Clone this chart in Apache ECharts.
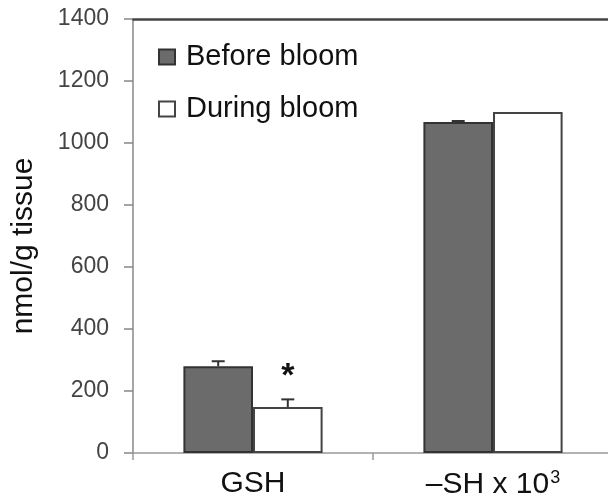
<!DOCTYPE html>
<html>
<head>
<meta charset="utf-8">
<script src="https://cdn.jsdelivr.net/npm/echarts@6/dist/echarts.min.js"></script>
<style>html,body{margin:0;padding:0;background:#fff}#c{width:608px;height:502px}</style>
</head>
<body>
<div id="c"></div>
<script>
const categories = ['GSH', '–SH x 10³'];
const beforeValues = [280, 1068];
const duringValues = [148, 1100];
const beforeErr = [16, 3];
const duringErr = [25, 0];
const significance = ['*', ''];
const yTicks = [0, 200, 400, 600, 800, 1000, 1200, 1400];

const FONT = '"Liberation Sans", Arial, sans-serif';
const GAP = 0.42;

function errSeries(name, vals, errs, sign, marks) {
  return {
    type: 'custom', name: name + ' err', z: 5, silent: true,
    data: vals.map((v, i) => [i, v, errs[i]]),
    renderItem: function (params, api) {
      const cat = api.value(0), val = api.value(1), err = api.value(2);
      const band = api.size([1, 0])[0];
      const off = band * (1 - GAP) / 4 * sign;
      const base = api.coord([cat, val]);
      const top = api.coord([cat, val + err]);
      const x = base[0] + off;
      const st = { stroke: '#333', lineWidth: 2 };
      const children = [];
      if (err > 0) {
        children.push({ type: 'line', shape: { x1: x, y1: base[1], x2: x, y2: top[1] }, style: st });
        children.push({ type: 'line', shape: { x1: x - 6.5, y1: top[1], x2: x + 6.5, y2: top[1] }, style: st });
      }
      const m = marks ? marks[params.dataIndex] : '';
      if (m) {
        children.push({ type: 'text', style: { text: m, x: x, y: top[1] - 23, align: 'center', verticalAlign: 'middle',
          font: 'bold 34px ' + FONT, fill: '#111' } });
      }
      return { type: 'group', children: children };
    }
  };
}

const chart = echarts.init(document.getElementById('c'), null, { renderer: 'canvas' });
chart.setOption({
  animation: false,
  backgroundColor: '#fff',
  grid: { left: 133, top: 19, width: 480, height: 434, containLabel: false, outerBoundsMode: 'none' },
  legend: {
    orient: 'vertical', left: 153, top: 37, itemWidth: 16, itemHeight: 15, itemGap: 22,
    icon: 'rect',
    textStyle: { fontFamily: FONT, fontSize: 29, color: '#111', lineHeight: 30, padding: [0, 0, 0, 6] },
    data: ['Before bloom', 'During bloom']
  },
  xAxis: [{
    type: 'category', data: categories,
    axisLine: { lineStyle: { color: '#999', width: 1.5 } },
    axisTick: { show: true, length: 7, alignWithLabel: false, lineStyle: { color: '#999', width: 1.5 } },
    axisLabel: {
      interval: 0, hideOverlap: false,
      margin: 16, fontFamily: FONT, fontSize: 30, color: '#111',
      formatter: function (v) { return v.replace('³', '{sup|3}'); },
      rich: { sup: { fontSize: 18, fontFamily: FONT, color: '#111', verticalAlign: 'top', padding: [0, 0, 14, 1] } }
    }
  }, {
    type: 'category', data: categories, position: 'top',
    axisLine: { lineStyle: { color: '#444', width: 2.5 } },
    axisTick: { show: false }, axisLabel: { show: false }
  }],
  yAxis: {
    type: 'value', min: yTicks[0], max: yTicks[yTicks.length - 1], interval: 200,
    name: 'nmol/g tissue', nameLocation: 'middle', nameGap: 94,
    nameTextStyle: { fontFamily: FONT, fontSize: 30, color: '#111', padding: [0, 20, 0, 0] },
    axisLine: { show: true, lineStyle: { color: '#888', width: 1.5 } },
    axisTick: { show: true, length: 9, lineStyle: { color: '#888', width: 1.5 } },
    axisLabel: { margin: 24, fontFamily: FONT, fontSize: 23, color: '#444', formatter: function (v) { return String(v); } },
    splitLine: { show: false }
  },
  series: [
    { name: 'Before bloom', type: 'bar', data: beforeValues, barGap: '0%', barCategoryGap: (GAP * 100) + '%',
      itemStyle: { color: '#6b6b6b', borderColor: '#333', borderWidth: 2 } },
    { name: 'During bloom', type: 'bar', data: duringValues, barGap: '0%', barCategoryGap: (GAP * 100) + '%',
      itemStyle: { color: '#fff', borderColor: '#444', borderWidth: 2 } },
    errSeries('Before bloom', beforeValues, beforeErr, -1, null),
    errSeries('During bloom', duringValues, duringErr, 1, significance)
  ]
});
</script>
</body>
</html>
